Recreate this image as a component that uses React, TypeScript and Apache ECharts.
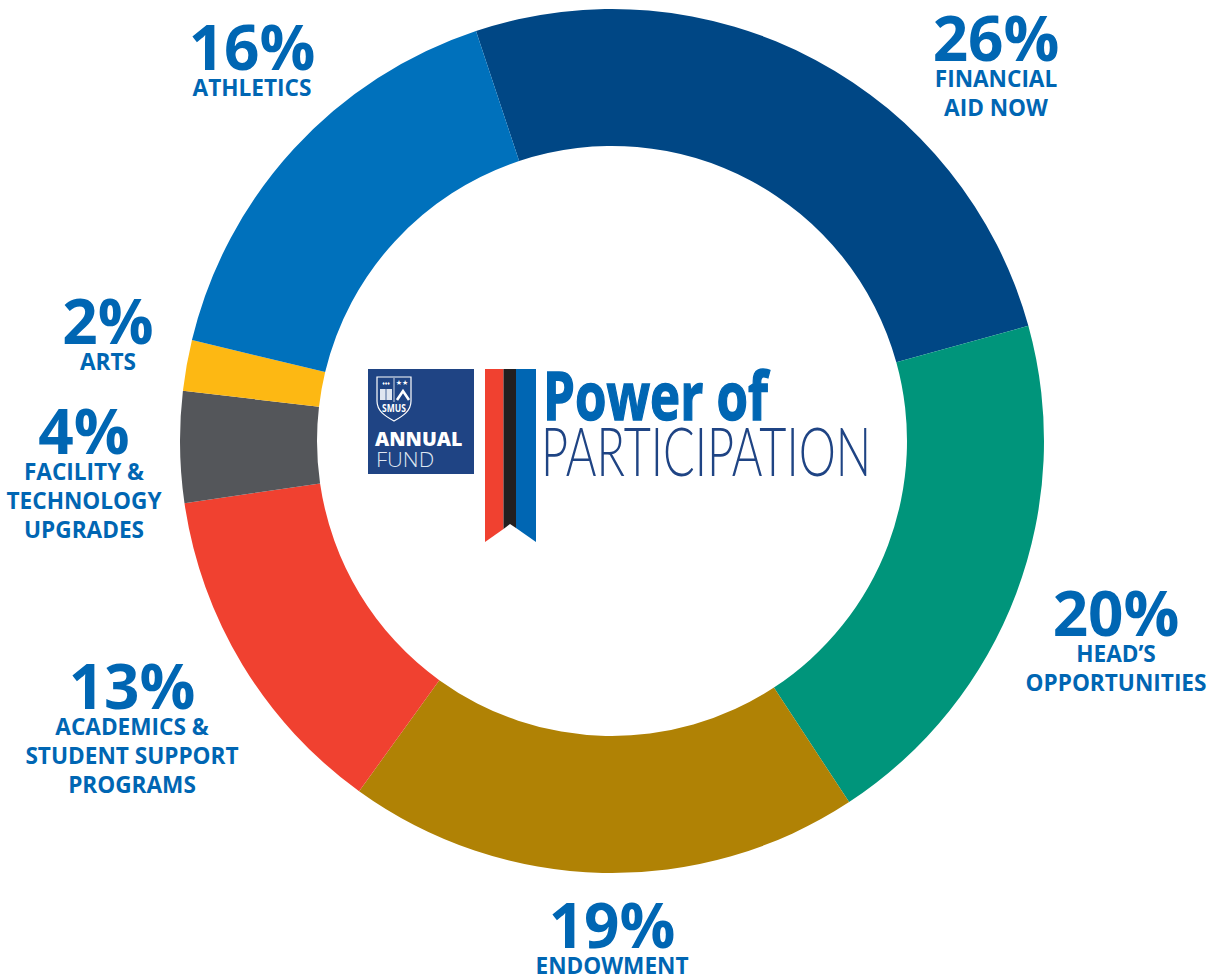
import React, { useEffect, useRef } from "react";
import * as echarts from "echarts";

const categories = ["FINANCIAL\nAID NOW", "HEAD’S\nOPPORTUNITIES", "ENDOWMENT", "ACADEMICS &\nSTUDENT SUPPORT\nPROGRAMS", "FACILITY &\nTECHNOLOGY\nUPGRADES", "ARTS", "ATHLETICS"];
// printed percentages
const percentLabels = [26, 20, 19, 13, 4, 2, 16];
const arcShares = [25.8, 20.05, 19.2, 12.75, 4.15, 1.9, 16.15];
const colors = ["#004785", "#00957B", "#B08205", "#F04130", "#54565A", "#FDB813", "#0071BC"];
const labelPositions = [[996, 10], [1116, 585], [612, 897], [132, 658], [84, 403], [108, 293], [252, 19]];

const BLUE = "#0066B3";
const NAVY = "#1F4484";
const FONT = '"Open Sans", "Noto Sans", sans-serif';

echarts.graphic.registerShape("smusShield", echarts.graphic.extendPath("M0 0 H34 V24 C34 34 26 39 17 44 C8 39 0 34 0 24 Z", {}));

export default function App() {
  const ref = useRef<HTMLDivElement>(null);
  useEffect(() => {
    document.body.style.margin = "0";
    const chart = echarts.init(ref.current!, null, { renderer: "svg" });
    chart.setOption({
      animation: false,
      backgroundColor: "#ffffff",
      series: [{
        type: "pie",
        center: [612, 441],
        radius: [295, 432],
        startAngle: 108.35,
        clockwise: true,
        avoidLabelOverlap: false,
        silent: true,
        itemStyle: { borderWidth: 0 },
        data: categories.map((name, i) => ({ name, value: arcShares[i], itemStyle: { color: colors[i] } })),
        label: {
          show: true,
          position: "outside",
          formatter: (p: any) => `{p|${percentLabels[p.dataIndex]}%}\n{n|${p.name.split("\n").join("}\n{n|")}}`,
          rich: {
            p: { fontFamily: FONT, fontWeight: 700, fontSize: 62, lineHeight: 54, color: BLUE, align: "center" },
            n: { fontFamily: FONT, fontWeight: 700, fontSize: 22.6, lineHeight: 29, color: BLUE, align: "center" },
          },
        },
        labelLine: { show: false },
        labelLayout: (p: any) => ({
          x: labelPositions[p.dataIndex][0],
          y: labelPositions[p.dataIndex][1],
          align: "center",
          verticalAlign: "top",
        }),
      }],
      graphic: [
        { type: "rect", shape: { x: 368, y: 369, width: 106, height: 105 }, style: { fill: NAVY } },
        { type: "smusShield", x: 377, y: 377, style: { fill: NAVY, stroke: "#ffffff", lineWidth: 1.2 } },
        { type: "line", shape: { x1: 394, y1: 378, x2: 394, y2: 402 }, style: { stroke: "#ffffff", lineWidth: 0.8 } },
        { type: "text", x: 386, y: 383, style: { text: "♦♦♦", font: `700 5px ${FONT}`, fill: "#ffffff", align: "center", verticalAlign: "middle" } },
        { type: "text", x: 402, y: 383, style: { text: "★★", font: `700 7px "DejaVu Sans"`, fill: "#ffffff", align: "center", verticalAlign: "middle" } },
        { type: "rect", shape: { x: 380, y: 389, width: 12, height: 11 }, style: { fill: "#dfe6f1" } },
        { type: "line", shape: { x1: 386, y1: 389, x2: 386, y2: 400 }, style: { stroke: NAVY, lineWidth: 0.8 } },
        { type: "polyline", shape: { points: [[397, 400], [403, 391], [409, 400]] }, style: { fill: "none", stroke: "#ffffff", lineWidth: 2.6 } },
        { type: "text", x: 394, y: 408, scaleX: 0.85, style: { text: "SMUS", font: `700 10px ${FONT}`, fill: "#ffffff", align: "center", verticalAlign: "middle" } },
        { type: "text", x: 375, y: 438, scaleX: 0.98, style: { text: "ANNUAL", font: `800 20px ${FONT}`, fill: "#ffffff", verticalAlign: "middle" } },
        { type: "text", x: 376, y: 459, scaleX: 1.1, style: { text: "FUND", font: `300 20px ${FONT}`, fill: "#dfe6f1", verticalAlign: "middle" } },
        { type: "polygon", shape: { points: [[485, 369], [503.5, 369], [503.5, 529], [485, 542]] }, style: { fill: "#F04130" } },
        { type: "polygon", shape: { points: [[503.5, 369], [516, 369], [516, 528], [510, 524], [503.5, 529]] }, style: { fill: "#231F20" } },
        { type: "polygon", shape: { points: [[516, 369], [536, 369], [536, 542], [516, 528]] }, style: { fill: BLUE } },
        { type: "text", x: 543, y: 394, scaleX: 0.76, style: { text: "Power of", font: `700 67px ${FONT}`, fill: BLUE, stroke: BLUE, lineWidth: 1.5, verticalAlign: "middle" } },
        { type: "text", x: 541, y: 449, scaleX: 0.69, style: { text: "PARTICIPATION", font: `300 68px Lato, ${FONT}`, fill: NAVY, verticalAlign: "middle" } },
      ],
    });
    return () => chart.dispose();
  }, []);
  return <div ref={ref} style={{ width: 1212, height: 975 }} />;
}
